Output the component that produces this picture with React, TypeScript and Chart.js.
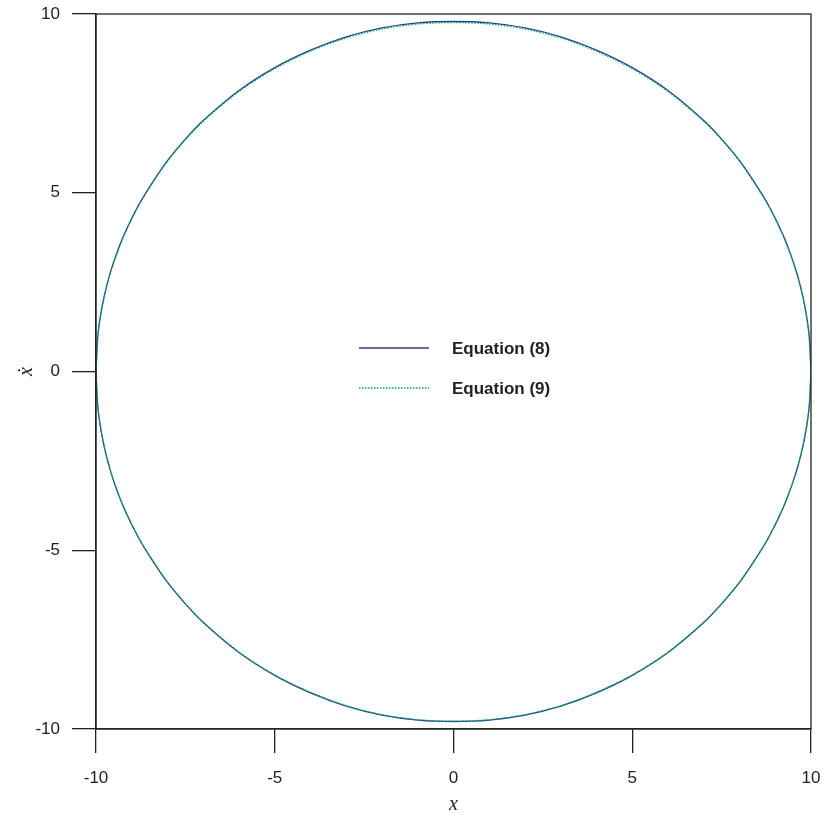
import React, { useEffect, useRef } from "react";
import { Chart, registerables } from "chart.js";

Chart.register(...registerables);

// x positions along the upper half (left to right)
const xValues = [-10, -9.95, -9.85, -9.7, -9.5, -9.2, -8.8, -8.4, -8, -7.5, -7, -6, -5, -4, -3, -2, -1, 0, 1, 2, 3, 4, 5, 6, 7, 7.5, 8, 8.4, 8.8, 9.2, 9.5, 9.7, 9.85, 9.95, 10];
// Equation (8): velocity on upper and lower branch at those x
const eq8Upper = [0, 0.98, 1.7, 2.4, 3.08, 3.86, 4.67, 5.32, 5.9, 6.5, 7.02, 7.86, 8.5, 8.99, 9.36, 9.61, 9.75, 9.79, 9.75, 9.61, 9.36, 8.99, 8.5, 7.86, 7.02, 6.5, 5.9, 5.32, 4.67, 3.86, 3.08, 2.4, 1.7, 0.98, 0];
const eq8Lower = [0, -0.98, -1.7, -2.4, -3.08, -3.86, -4.67, -5.32, -5.9, -6.5, -7.02, -7.86, -8.5, -8.99, -9.36, -9.61, -9.75, -9.79, -9.75, -9.61, -9.36, -8.99, -8.5, -7.86, -7.02, -6.5, -5.9, -5.32, -4.67, -3.86, -3.08, -2.4, -1.7, -0.98, 0];
// Equation (9)
const eq9Upper = [0, 0.97, 1.69, 2.39, 3.06, 3.84, 4.65, 5.3, 5.88, 6.48, 7.0, 7.83, 8.47, 8.96, 9.33, 9.58, 9.72, 9.76, 9.72, 9.58, 9.33, 8.96, 8.47, 7.83, 7.0, 6.48, 5.88, 5.3, 4.65, 3.84, 3.06, 2.39, 1.69, 0.97, 0];
const eq9Lower = [0, -0.97, -1.69, -2.39, -3.07, -3.85, -4.66, -5.31, -5.89, -6.49, -7.01, -7.85, -8.49, -8.97, -9.35, -9.6, -9.74, -9.78, -9.74, -9.6, -9.35, -8.97, -8.49, -7.85, -7.01, -6.49, -5.89, -5.31, -4.66, -3.85, -3.07, -2.39, -1.69, -0.97, 0];

const seriesLabels = ["Equation (8)", "Equation (9)"];
const seriesColors = ["#2b3a96", "#00b050"];
const tickValues = [-10, -5, 0, 5, 10];

function loop(upper: number[], lower: number[]) {
  const pts: { x: number; y: number }[] = [];
  xValues.forEach((x, i) => pts.push({ x, y: upper[i] }));
  for (let i = xValues.length - 1; i >= 0; i--) pts.push({ x: xValues[i], y: lower[i] });
  return pts;
}

const framePlugin = {
  id: "frameAndLegend",
  afterDatasetsDraw(chart: any) {
    const { ctx, chartArea } = chart;
    ctx.save();
    ctx.strokeStyle = "#222";
    ctx.lineWidth = 1.3;
    ctx.strokeRect(chartArea.left, chartArea.top, chartArea.right - chartArea.left, chartArea.bottom - chartArea.top);
    // legend
    const rows = [348, 388];
    seriesLabels.forEach((label, i) => {
      ctx.beginPath();
      ctx.strokeStyle = seriesColors[i];
      ctx.lineWidth = 1.3;
      ctx.setLineDash(i === 0 ? [] : [1.5, 1.5]);
      ctx.moveTo(359, rows[i]);
      ctx.lineTo(429, rows[i]);
      ctx.stroke();
      ctx.setLineDash([]);
      ctx.fillStyle = "#222";
      ctx.font = "bold 17px 'Liberation Sans', Arial, sans-serif";
      ctx.textBaseline = "middle";
      ctx.textAlign = "left";
      ctx.fillText(label, 452, rows[i] + 1);
    });
    ctx.restore();
  },
};

export default function App() {
  const ref = useRef<HTMLCanvasElement>(null);
  useEffect(() => {
    document.body.style.margin = "0";
    const tickFont = { family: "'Liberation Sans', Arial, sans-serif", size: 17 };
    const chart = new Chart(ref.current!, {
      type: "scatter",
      data: {
        datasets: [
          {
            label: seriesLabels[0],
            data: loop(eq8Upper, eq8Lower),
            showLine: true,
            borderColor: seriesColors[0],
            borderWidth: 1.3,
            pointRadius: 0,
            tension: 0.3,
            order: 2,
          },
          {
            label: seriesLabels[1],
            data: loop(eq9Upper, eq9Lower),
            showLine: true,
            borderColor: seriesColors[1],
            borderWidth: 1.3,
            borderDash: [1.5, 1.5],
            pointRadius: 0,
            tension: 0.3,
            order: 1,
          },
        ],
      },
      options: {
        responsive: false,
        animation: false,
        devicePixelRatio: 1,
        layout: { padding: { left: 0, right: 14, top: 14, bottom: 0 } },
        plugins: { legend: { display: false }, tooltip: { enabled: false } },
        scales: {
          x: {
            type: "linear",
            min: -10,
            max: 10,
            afterBuildTicks: (s: any) => { s.ticks = tickValues.map((v) => ({ value: v })); },
            afterFit: (s: any) => { s.height = 88; s.paddingLeft = 0; s.paddingRight = 0; },
            ticks: { color: "#222", font: tickFont, padding: 15, maxRotation: 0 },
            grid: { drawOnChartArea: false, drawTicks: true, tickLength: 24, color: "#222", lineWidth: 1.3 },
            border: { color: "#222", width: 1.3 },
            title: {
              display: true,
              text: "x",
              color: "#222",
              font: { family: "'Liberation Serif', 'DejaVu Serif', serif", size: 20, style: "italic" },
              padding: { top: 0, bottom: 0 },
            },
          },
          y: {
            type: "linear",
            min: -10,
            max: 10,
            afterBuildTicks: (s: any) => { s.ticks = tickValues.map((v) => ({ value: v })); },
            afterFit: (s: any) => { s.width = 96; s.paddingTop = 0; s.paddingBottom = 0; },
            ticks: { color: "#222", font: tickFont, padding: 12 },
            grid: { drawOnChartArea: false, drawTicks: true, tickLength: 24, color: "#222", lineWidth: 1.3 },
            border: { color: "#222", width: 1.3 },
            title: {
              display: true,
              text: "ẋ",
              color: "#222",
              font: { family: "'Liberation Serif', 'DejaVu Serif', serif", size: 20, style: "italic" },
              padding: { top: 15, bottom: 15 },
            },
          },
        },
      },
      plugins: [framePlugin],
    } as any);
    return () => chart.destroy();
  }, []);
  return (
    <div style={{ width: 825, height: 817 }}>
      <canvas ref={ref} width={825} height={817} style={{ width: 825, height: 817, display: "block" }} />
    </div>
  );
}
